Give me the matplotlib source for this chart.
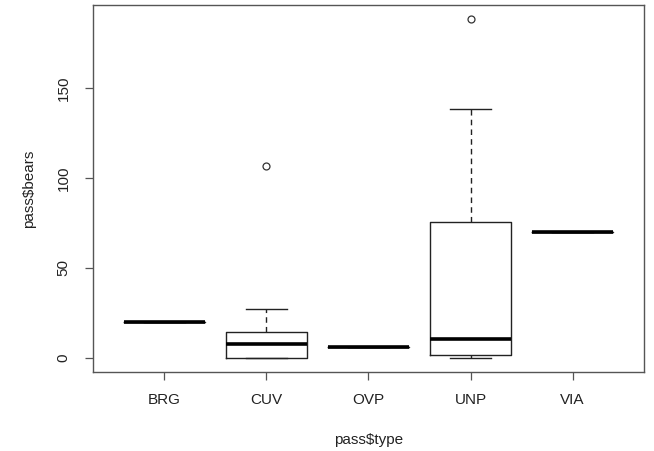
import matplotlib.pyplot as plt

plt.rcParams['font.family'] = ['Liberation Sans', 'DejaVu Sans']

types = ['BRG', 'CUV', 'OVP', 'UNP', 'VIA']
# boxplot stats
whislo = [20, 0, 6, 0, 70]
q1 = [20, 0, 6, 1.4, 70]
med = [20, 8, 6, 10.3, 70]
q3 = [20, 14.5, 6, 75.5, 70]
whishi = [20, 27, 6, 138.5, 70]
fliers = [[], [106.5], [], [188], []]

stats = []
for i in range(len(types)):
    stats.append({'label': types[i], 'whislo': whislo[i], 'q1': q1[i], 'med': med[i],
                  'q3': q3[i], 'whishi': whishi[i], 'fliers': fliers[i]})

fig = plt.figure(figsize=(6.54, 4.51), dpi=100)
ax = fig.add_axes([0.1422, 0.1752, 0.8425, 0.8138])

ax.bxp(stats, positions=range(1, 6), widths=0.8, showcaps=True,
       boxprops=dict(color='#222222', linewidth=1.0),
       medianprops=dict(color='black', linewidth=2.6, solid_capstyle='butt'),
       whiskerprops=dict(color='#222222', linewidth=1.0, linestyle=(0, (4, 3))),
       capprops=dict(color='#222222', linewidth=1.0),
       capwidths=0.4,
       flierprops=dict(marker='o', markerfacecolor='none', markeredgecolor='#333333',
                       markersize=5, markeredgewidth=0.9))

ax.set_xlim(0.3, 5.7)
ax.set_ylim(-7.8, 196)
ax.set_yticks([0, 50, 100, 150])
ax.set_yticklabels(['0', '50', '100', '150'], rotation=90, va='center')
ax.set_xticks(range(1, 6))
ax.set_xticklabels(types)
ax.tick_params(axis='both', direction='out', length=6, width=0.9, color='#555555',
               labelsize=11, labelcolor='#222222')
ax.tick_params(axis='x', pad=9)
ax.tick_params(axis='y', pad=10)
for s in ax.spines.values():
    s.set_color('#555555')
    s.set_linewidth(1.0)

ax.set_xlabel('pass\\$type', fontsize=11, color='#222222', labelpad=19)
ax.set_ylabel('pass\\$bears', fontsize=11, color='#222222', labelpad=15)

fig.savefig('out.png', dpi=100)
